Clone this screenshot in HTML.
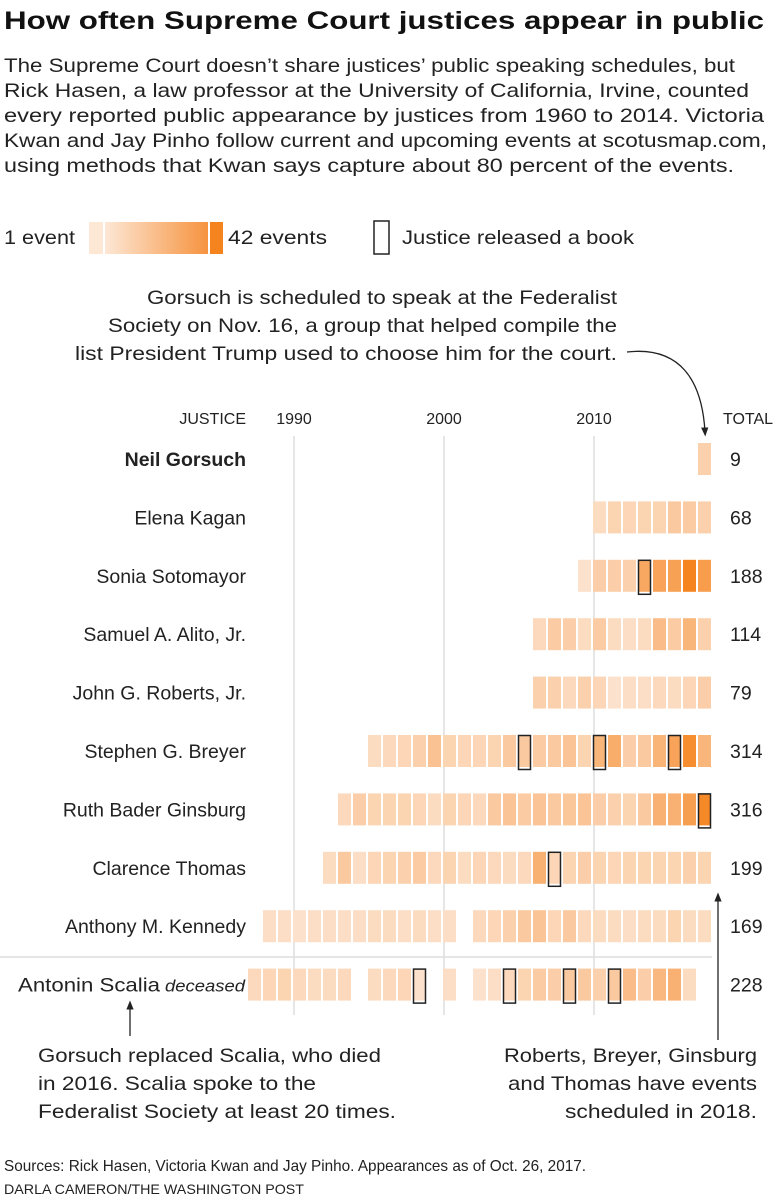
<!DOCTYPE html>
<html><head><meta charset="utf-8">
<style>
html,body{margin:0;padding:0;background:#fff;}
svg{display:block;font-family:"Liberation Sans",sans-serif;}
</style></head>
<body>
<svg id="chart" width="775" height="1200" viewBox="0 0 775 1200" xmlns="http://www.w3.org/2000/svg">
<defs>
<linearGradient id="lg" x1="0" x2="1" y1="0" y2="0">
<stop offset="0" stop-color="#fde7d5"/><stop offset="1" stop-color="#f6933f"/>
</linearGradient>
<marker id="ah" viewBox="0 0 10 10" refX="5" refY="5" markerWidth="7" markerHeight="7" orient="auto-start-reverse">
<path d="M0,1 L10,5 L0,9 z" fill="#222"/>
</marker>
</defs>
<text x="4" y="29" font-size="25" font-weight="bold" fill="#111" textLength="760" lengthAdjust="spacingAndGlyphs">How often Supreme Court justices appear in public</text>
<g font-size="19.5" fill="#222">
<text x="4" y="72" textLength="731" lengthAdjust="spacingAndGlyphs">The Supreme Court doesn’t share justices’ public speaking schedules, but</text>
<text x="4" y="97" textLength="745" lengthAdjust="spacingAndGlyphs">Rick Hasen, a law professor at the University of California, Irvine, counted</text>
<text x="4" y="122" textLength="760" lengthAdjust="spacingAndGlyphs">every reported public appearance by justices from 1960 to 2014. Victoria</text>
<text x="4" y="147" textLength="763" lengthAdjust="spacingAndGlyphs">Kwan and Jay Pinho follow current and upcoming events at scotusmap.com,</text>
<text x="4" y="172" textLength="730" lengthAdjust="spacingAndGlyphs">using methods that Kwan says capture about 80 percent of the events.</text>
</g>
<g>
<text x="4" y="244" font-size="19.5" fill="#222" textLength="71" lengthAdjust="spacingAndGlyphs">1 event</text>
<rect x="89" y="222" width="14" height="32" fill="#fde7d5"/>
<rect x="105" y="222" width="103" height="32" fill="url(#lg)"/>
<rect x="210" y="222" width="13" height="32" fill="#f5841f"/>
<text x="228" y="244" font-size="19.5" fill="#222" textLength="99" lengthAdjust="spacingAndGlyphs">42 events</text>
<rect x="374" y="221" width="15" height="33" fill="none" stroke="#222" stroke-width="1.5"/>
<text x="402" y="244" font-size="19.5" fill="#222" textLength="232" lengthAdjust="spacingAndGlyphs">Justice released a book</text>
</g>
<g font-size="19.5" fill="#222" text-anchor="end">
<text x="617" y="304" textLength="470" lengthAdjust="spacingAndGlyphs">Gorsuch is scheduled to speak at the Federalist</text>
<text x="617" y="332" textLength="509" lengthAdjust="spacingAndGlyphs">Society on Nov. 16, a group that helped compile the</text>
<text x="617" y="360" textLength="542" lengthAdjust="spacingAndGlyphs">list President Trump used to choose him for the court.</text>
</g>
<path d="M627,352 C680,346 702,380 705,432" fill="none" stroke="#222" stroke-width="1.3" marker-end="url(#ah)"/>
<g id="axis" font-size="16" fill="#222"></g>
<g id="grid"></g>
<g id="rows"></g>
<line x1="0" y1="957" x2="712" y2="957" stroke="#ddd" stroke-width="1.5"/>
<line x1="130" y1="1036" x2="130" y2="1005" stroke="#222" stroke-width="1.3" marker-end="url(#ah)"/>
<line x1="718" y1="1040" x2="718" y2="897" stroke="#222" stroke-width="1.3" marker-end="url(#ah)"/>
<g font-size="19.5" fill="#222">
<text x="38" y="1062" textLength="343" lengthAdjust="spacingAndGlyphs">Gorsuch replaced Scalia, who died</text>
<text x="38" y="1090" textLength="278" lengthAdjust="spacingAndGlyphs">in 2016. Scalia spoke to the</text>
<text x="38" y="1118" textLength="358" lengthAdjust="spacingAndGlyphs">Federalist Society at least 20 times.</text>
</g>
<g font-size="19.5" fill="#222" text-anchor="end">
<text x="757" y="1062" textLength="253" lengthAdjust="spacingAndGlyphs">Roberts, Breyer, Ginsburg</text>
<text x="757" y="1090" textLength="249" lengthAdjust="spacingAndGlyphs">and Thomas have events</text>
<text x="757" y="1118" textLength="192" lengthAdjust="spacingAndGlyphs">scheduled in 2018.</text>
</g>
<text x="4" y="1171" font-size="16" fill="#222" textLength="582" lengthAdjust="spacingAndGlyphs">Sources: Rick Hasen, Victoria Kwan and Jay Pinho. Appearances as of Oct. 26, 2017.</text>
<text x="4" y="1194" font-size="14" fill="#222" textLength="300" lengthAdjust="spacingAndGlyphs">DARLA CAMERON/THE WASHINGTON POST</text>
</svg>
<script>
const justices = ["Neil Gorsuch","Elena Kagan","Sonia Sotomayor","Samuel A. Alito, Jr.","John G. Roberts, Jr.","Stephen G. Breyer","Ruth Bader Ginsburg","Clarence Thomas","Anthony M. Kennedy","Antonin Scalia"];
const totals = [9,68,188,114,79,314,316,199,169,228];
const startYears = [2017,2010,2009,2006,2006,1995,1993,1992,1988,1987];
// yearly counts, null = no events
const counts = [
 [9],
 [5,8,7,8,8,12,11,9],
 [3,10,10,9,26,28,29,42,31],
 [6,11,10,5,11,5,4,5,17,11,20,9],
 [9,9,6,9,7,3,4,4,6,5,7,10],
 [5,6,7,9,15,8,7,7,8,12,12,11,12,14,8,20,24,10,12,21,28,38,20],
 [6,10,8,8,8,7,5,8,7,6,12,14,11,14,12,13,14,10,9,8,12,22,22,30,40],
 [5,12,4,7,8,9,11,6,8,5,7,6,5,6,22,7,8,10,8,7,8,8,8,8,9,8],
 [4,4,3,4,4,4,4,5,5,4,5,4,4,null,6,7,9,12,14,7,12,6,5,5,4,5,5,8,5,5],
 [6,7,8,6,5,5,6,null,5,6,7,3,null,4,null,3,4,6,8,11,10,12,12,9,12,17,10,19,22,5]
];
const bookYears = [[],[],[2013],[],[],[2005,2010,2015],[2017],[2007],[],[1998,2004,2008,2011]];
const tickYears = [1990,2000,2010];

const NS="http://www.w3.org/2000/svg";
const xYear = y => 293 + (y-1990)*15;
const yRow = i => 443 + i*58.4;
const cellW=13, cellH=32;
function color(v){
  const t=Math.pow((v-1)/41,0.9);
  const a=[253,232,216], b=[245,132,31];
  return "rgb("+a.map((c,k)=>Math.round(c+(b[k]-c)*t)).join(",")+")";
}
function mk(tag,attrs,parent){const e=document.createElementNS(NS,tag);for(const k in attrs)e.setAttribute(k,attrs[k]);parent.appendChild(e);return e;}
const axis=document.getElementById('axis'), grid=document.getElementById('grid'), rows=document.getElementById('rows');
let t=mk('text',{x:246,y:424,'text-anchor':'end'},axis);t.textContent="JUSTICE";


t=mk('text',{x:748,y:424,'text-anchor':'middle'},axis);t.textContent="TOTAL";


tickYears.forEach(y=>{
  const x=xYear(y)+1;
  const l=mk('line',{x1:x,x2:x,y1:436,y2:1015,stroke:'#ddd','stroke-width':1.5},grid);
  
  
  const tt=mk('text',{x:x,y:424,'text-anchor':'middle','font-size':16,fill:'#222'},axis);tt.textContent=y;
  
  
});
justices.forEach((name,i)=>{
  const g=mk('g',{},rows);
  
  
  const cy=yRow(i)+cellH/2;
  const lbl=mk('text',{x:246,y:cy+7,'text-anchor':'end','font-size':19.5,fill:'#222'},g);
  if(i===0){lbl.setAttribute('font-weight','bold');}
  if(i===9){
    lbl.setAttribute('x',18);
    lbl.setAttribute('text-anchor','start');
    lbl.setAttribute('textLength','142');
    lbl.setAttribute('lengthAdjust','spacingAndGlyphs');
    lbl.textContent=name;
    const d=mk('text',{x:165,y:cy+7,'font-size':17,'font-style':'italic',fill:'#222',textLength:80,lengthAdjust:'spacingAndGlyphs'},g);d.textContent="deceased";
    
    
  } else lbl.textContent=name;
  
  
  counts[i].forEach((v,k)=>{
    if(v===null)return;
    const yr=startYears[i]+k;
    const r=mk('rect',{x:xYear(yr),y:yRow(i),width:cellW,height:cellH,fill:color(v)},g);
    
    
  });
  bookYears[i].forEach(yr=>{
    const b=mk('rect',{x:xYear(yr)+0.5,y:yRow(i)+0.5,width:cellW-1,height:cellH+2,fill:'none',stroke:'#222','stroke-width':1.5},g);
    
    
  });
  const tot=mk('text',{x:730,y:cy+7,'font-size':19.5,fill:'#222'},g);tot.textContent=totals[i];
  
  
});
</script>
</body></html>
